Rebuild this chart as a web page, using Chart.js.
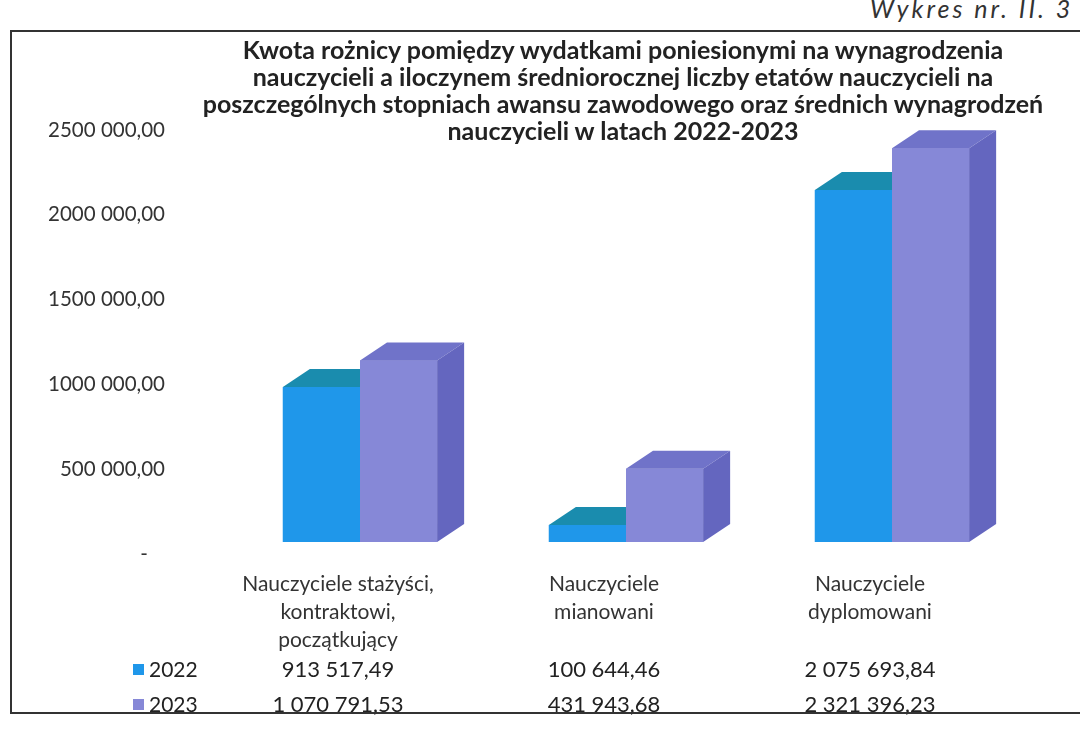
<!DOCTYPE html>
<html>
<head>
<meta charset="utf-8">
<script src="https://cdn.jsdelivr.net/npm/chart.js@4"></script>
<style>
  html, body { margin: 0; padding: 0; background: #fff; overflow: hidden; }
  body { width: 1080px; height: 729px; position: relative; font-family: Lato, sans-serif; }
  #wrap { position: absolute; left: 0; top: 0; width: 1080px; height: 729px; }
  #frame { position: absolute; left: 10px; top: 30px; width: 1080px; height: 680px;
    border: 2px solid #333; border-right: none; pointer-events: none; }
  #tag { position: absolute; left: 870px; top: -7px; font: italic 25px Lato, sans-serif; letter-spacing: 3px;
    color: #333; white-space: nowrap; }
  #title { position: absolute; left: 120px; width: 1006px; top: 36px; text-align: center;
    font: bold 25px Lato, sans-serif; line-height: 27px; color: #222; }
</style>
</head>
<body>
<div id="tag">Wykres nr. II. 3</div>
<div id="wrap"><canvas id="chart" width="1080" height="729"></canvas></div>
<div id="frame"></div>
<div id="title">Kwota rożnicy pomiędzy wydatkami poniesionymi na wynagrodzenia<br>nauczycieli a iloczynem średniorocznej liczby etatów nauczycieli na<br>poszczególnych stopniach awansu zawodowego oraz średnich wynagrodzeń<br>nauczycieli w latach 2022-2023</div>
<script>
const categories = [
  ['Nauczyciele stażyści,', 'kontraktowi,', 'początkujący'],
  ['Nauczyciele', 'mianowani'],
  ['Nauczyciele', 'dyplomowani']
];
const years = ['2022', '2023'];
const values2022 = [913517.49, 100644.46, 2075693.84];
const values2023 = [1070791.53, 431943.68, 2321396.23];
const yTickLabels = ['-\u2007 ', '500 000,00', '1000 000,00', '1500 000,00', '2000 000,00', '2500 000,00'];

const frontColors = ['#1f97ea', '#8688d7'];
const topColors = ['#1a8cae', '#7073c9'];
const sideColors = ['#1577c0', '#6466bf'];
const depthX = 27, depthY = 18;
const labelShift = -22;

function fmt(n) {
  const parts = n.toFixed(2).split('.');
  return parts[0].replace(/\B(?=(\d{3})+(?!\d))/g, ' ') + ',' + parts[1];
}

// draw each box (front, top, side) series by series, so 2023 covers 2022's side
const bars3d = {
  id: 'bars3d',
  afterDatasetsDraw(chart) {
    const ctx = chart.ctx;
    ctx.save();
    chart.data.datasets.forEach((ds, i) => {
      chart.getDatasetMeta(i).data.forEach(bar => {
        const l = bar.x - bar.width / 2, r = bar.x + bar.width / 2;
        ctx.fillStyle = frontColors[i];
        ctx.fillRect(l, bar.y, bar.width, bar.base - bar.y);
        ctx.fillStyle = topColors[i];
        ctx.beginPath();
        ctx.moveTo(l, bar.y);
        ctx.lineTo(r, bar.y);
        ctx.lineTo(r + depthX, bar.y - depthY);
        ctx.lineTo(l + depthX, bar.y - depthY);
        ctx.closePath();
        ctx.fill();
        ctx.fillStyle = sideColors[i];
        ctx.beginPath();
        ctx.moveTo(r, bar.y);
        ctx.lineTo(r + depthX, bar.y - depthY);
        ctx.lineTo(r + depthX, bar.base - depthY);
        ctx.lineTo(r, bar.base);
        ctx.closePath();
        ctx.fill();
      });
    });
    ctx.restore();
  }
};

const dataTable = {
  id: 'dataTable',
  afterDraw(chart) {
    const ctx = chart.ctx;
    const x = chart.scales.x;
    const rows = [values2022, values2023];
    const baseY = chart.chartArea.bottom + 128;
    ctx.save();
    ctx.textBaseline = 'middle';
    rows.forEach((vals, r) => {
      const y = baseY + r * 35;
      ctx.fillStyle = frontColors[r];
      ctx.fillRect(133, y - 6, 11, 11);
      ctx.fillStyle = '#222';
      ctx.textAlign = 'left';
      ctx.font = '21px Lato, sans-serif';
      ctx.fillText(years[r], 149, y);
      ctx.textAlign = 'center';
      ctx.font = '22px Lato, sans-serif';
      vals.forEach((v, c) => {
        ctx.fillText(fmt(v), x.getPixelForValue(c) + labelShift, y);
      });
    });
    ctx.restore();
  }
};

new Chart(document.getElementById('chart'), {
  type: 'bar',
  data: {
    labels: categories,
    datasets: [
      { label: years[0], data: values2022, backgroundColor: frontColors[0] },
      { label: years[1], data: values2023, backgroundColor: frontColors[1] }
    ]
  },
  options: {
    responsive: false,
    animation: false,
    events: [],
    categoryPercentage: 0.58,
    barPercentage: 1,
    layout: { padding: { top: 118, right: 55, bottom: 0, left: 0 } },
    plugins: {
      legend: { display: false },
      title: { display: false },
      tooltip: { enabled: false }
    },
    scales: {
      x: {
        grid: { display: false, drawTicks: false },
        border: { display: false },
        ticks: {
          color: '#333',
          font: { family: 'Lato, sans-serif', size: 21, lineHeight: 1.33 },
          padding: 28,
          labelOffset: labelShift,
          maxRotation: 0,
          autoSkip: false
        },
        afterFit(scale) { scale.height = 187; }
      },
      y: {
        min: 0,
        max: 2500000,
        grid: { display: false, drawTicks: false },
        border: { display: false },
        ticks: {
          stepSize: 500000,
          color: '#333',
          font: { family: 'Lato, sans-serif', size: 20.5 },
          padding: 62,
          labelOffset: 12,
          callback: v => yTickLabels[Math.round(v / 500000)]
        },
        afterFit(scale) { scale.width = 227; }
      }
    }
  },
  plugins: [bars3d, dataTable]
});
</script>
</body>
</html>
